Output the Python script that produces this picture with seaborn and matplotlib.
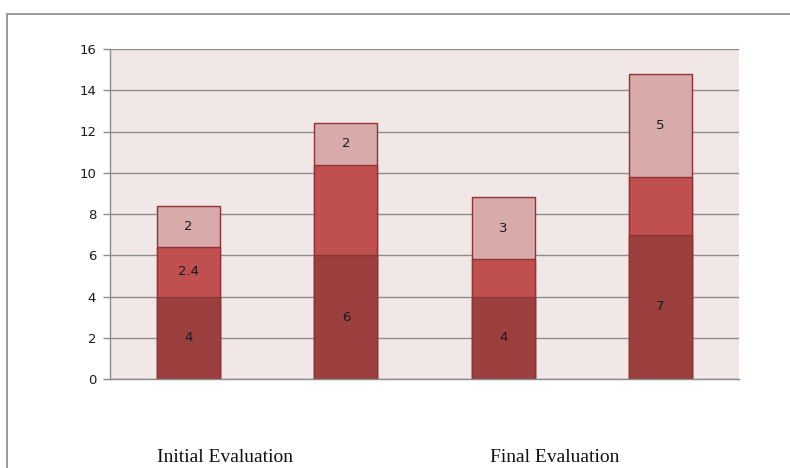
import numpy as np
import pandas as pd
import matplotlib
matplotlib.use("Agg")
import matplotlib.pyplot as plt
import seaborn as sns
from matplotlib.patches import Rectangle

# Four stacked columns: two under each evaluation
positions = ["A", "B", "C", "D"]
bottom_vals = [4, 6, 4, 7]
middle_vals = [2.4, 4.4, 1.8, 2.8]
top_vals = [2, 2, 3, 5]
bottom_labels = ["4", "6", "4", "7"]
middle_labels = ["2.4", "", "", ""]
top_labels = ["2", "2", "3", "5"]
group_names = ["Initial Evaluation", "Final Evaluation"]
y_ticks = [0, 2, 4, 6, 8, 10, 12, 14, 16]

sns.set_theme(style="white")

dark = "#9C3F3F"
mid = "#C0504F"
light = "#D9AAAA"
edge = "#8E3434"

df = pd.DataFrame({
    "pos": positions,
    "bottom": bottom_vals,
    "middle": middle_vals,
    "top": top_vals,
})
df["lvl2"] = df["bottom"] + df["middle"]
df["lvl3"] = df["lvl2"] + df["top"]

fig = plt.figure(figsize=(7.9, 4.68), dpi=100)
ax = fig.add_axes([110 / 790, 1 - 379 / 468, 629 / 790, 330 / 468])
ax.set_facecolor("#F2E7E7")

# outer frame of the chart area
fig.patches.append(Rectangle((7 / 790, -0.1), 1.2, 1 - 14 / 468 + 0.1,
                             transform=fig.transFigure, fill=False,
                             edgecolor="#8A8A8A", linewidth=1.2, zorder=0))

ax.set_axisbelow(True)
ax.yaxis.grid(True, color="#8C8C8C", linewidth=1.0)

# stacked columns drawn as cumulative layers, tallest first
for col, color in [("lvl3", light), ("lvl2", mid), ("bottom", dark)]:
    sns.barplot(data=df, x="pos", y=col, color=color, width=0.4,
                edgecolor=edge, linewidth=1.0, saturation=1, ax=ax, zorder=2)

label_size = 9.5
x = np.arange(len(positions))
for i in x:
    b, m, t = bottom_vals[i], middle_vals[i], top_vals[i]
    ax.text(i, b / 2, bottom_labels[i], ha="center", va="center",
            fontsize=label_size, color="#1a1a1a", zorder=5)
    if middle_labels[i]:
        ax.text(i, b + m / 2, middle_labels[i], ha="center", va="center",
                fontsize=label_size, color="#1a1a1a", zorder=5)
    ax.text(i, b + m + t / 2, top_labels[i], ha="center", va="center",
            fontsize=label_size, color="#1a1a1a", zorder=5)

ax.set_xlim(-0.5, 3.5)
ax.set_ylim(0, 16)
ax.set_yticks(y_ticks)
ax.set_yticklabels([str(v) for v in y_ticks], fontsize=label_size, color="#1a1a1a")
ax.set_xticks([])
ax.set_xlabel("")
ax.set_ylabel("")
ax.tick_params(axis="y", which="major", left=True, length=5, width=1,
               color="#8C8C8C", pad=5)

for side in ["top", "right"]:
    ax.spines[side].set_visible(False)
ax.spines["left"].set_color("#8C8C8C")
ax.spines["bottom"].set_color("#8C8C8C")
ax.spines["left"].set_linewidth(1.0)
ax.spines["bottom"].set_linewidth(1.0)

fig.text(225 / 790, 1 - 457 / 468, group_names[0], ha="center", va="center",
         fontsize=14, family="Liberation Serif", color="#111111")
fig.text(555 / 790, 1 - 457 / 468, group_names[1], ha="center", va="center",
         fontsize=14, family="Liberation Serif", color="#111111")

fig.savefig("out.png", dpi=100)
